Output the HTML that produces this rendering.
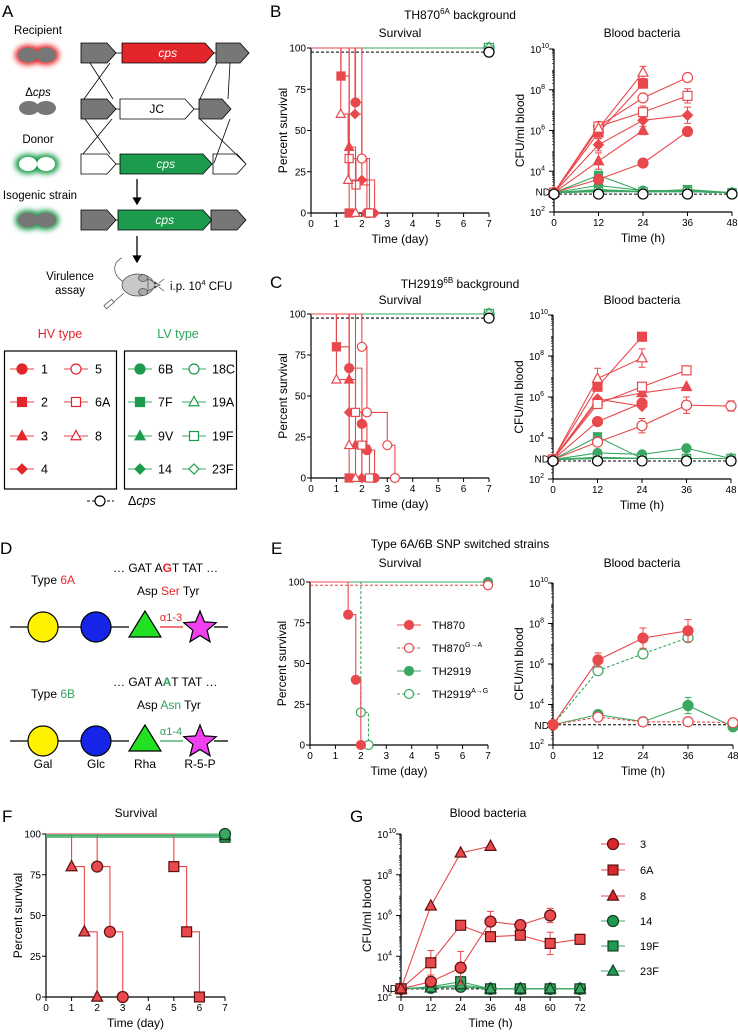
<!DOCTYPE html>
<html><head><meta charset="utf-8">
<style>
body{margin:0;background:#fff}
svg{display:block;font-family:"Liberation Sans",Arial,sans-serif}
</style></head>
<body>
<svg id="fig" width="738" height="1035" viewBox="0 0 738 1035" xmlns="http://www.w3.org/2000/svg">
<defs>
<filter id="glow" x="-50%" y="-50%" width="200%" height="200%"><feGaussianBlur stdDeviation="2.6"/></filter>
</defs>
<rect width="738" height="1035" fill="#fff"/>

<!-- Panel letters -->
<g font-size="17">
<text x="2" y="17">A</text>
<text x="270" y="17">B</text>
<text x="270" y="288">C</text>
<text x="0" y="554">D</text>
<text x="271" y="554">E</text>
<text x="2" y="822">F</text>
<text x="350" y="822">G</text>
</g>

<!-- Panel A -->
<g font-size="11.5">
<text x="38" y="34" text-anchor="middle">Recipient</text>
<g>
<ellipse cx="28" cy="55" rx="13" ry="10" fill="#e8262b" filter="url(#glow)"/>
<ellipse cx="46" cy="55" rx="13" ry="10" fill="#e8262b" filter="url(#glow)"/>
<ellipse cx="28" cy="55" rx="10" ry="7.5" fill="#777"/>
<ellipse cx="46" cy="55" rx="10" ry="7.5" fill="#777"/>
</g>
<text x="38" y="96" text-anchor="middle">Δ<tspan font-style="italic">cps</tspan></text>
<g>
<ellipse cx="29" cy="108" rx="10" ry="7" fill="#777"/>
<ellipse cx="46" cy="108" rx="10" ry="7" fill="#777"/>
</g>
<text x="38" y="143" text-anchor="middle">Donor</text>
<g>
<ellipse cx="28" cy="164" rx="13" ry="10" fill="#1c9b4e" filter="url(#glow)"/>
<ellipse cx="46" cy="164" rx="13" ry="10" fill="#1c9b4e" filter="url(#glow)"/>
<ellipse cx="28" cy="164" rx="9" ry="7" fill="#fff"/>
<ellipse cx="46" cy="164" rx="9" ry="7" fill="#fff"/>
</g>
<text x="40" y="199" text-anchor="middle">Isogenic strain</text>
<g>
<ellipse cx="28" cy="220" rx="13" ry="10" fill="#1c9b4e" filter="url(#glow)"/>
<ellipse cx="46" cy="220" rx="13" ry="10" fill="#1c9b4e" filter="url(#glow)"/>
<ellipse cx="28" cy="220" rx="10" ry="7.5" fill="#777"/>
<ellipse cx="46" cy="220" rx="10" ry="7.5" fill="#777"/>
</g>
<g id="genes" stroke="#000" stroke-width="0.8"></g>
<g stroke="#000" stroke-width="1.3">
<line x1="137" y1="179" x2="137" y2="199"/><polygon points="133.5,198 140.5,198 137,204" fill="#000"/>
<line x1="137" y1="236" x2="137" y2="257"/><polygon points="133.5,256 140.5,256 137,262" fill="#000"/>
</g>
<text x="70" y="280" text-anchor="middle">Virulence</text>
<text x="70" y="294" text-anchor="middle">assay</text>
<g stroke="#555" stroke-width="0.8">
<path d="M124,282 C112,276 112,262 122,258" fill="none"/>
<ellipse cx="138" cy="285" rx="16" ry="11" fill="#c8c8c8"/>
<ellipse cx="143" cy="278" rx="4.5" ry="3.5" fill="#aaa"/>
<ellipse cx="143" cy="292" rx="4.5" ry="3.5" fill="#aaa"/>
<path d="M148,279 L160,285 L148,291 Z" fill="#c8c8c8"/>
<circle cx="155" cy="283" r="1" fill="#222"/>
<circle cx="155" cy="287" r="1" fill="#222"/>
<line x1="159" y1="283" x2="164" y2="279"/><line x1="159" y1="287" x2="164" y2="291"/>
<line x1="124" y1="293" x2="108" y2="307"/><rect x="104" y="302" width="10" height="4" fill="#fff" transform="rotate(-40 109 304)"/>
</g>
<text x="170" y="290">i.p. 10<tspan dy="-5" font-size="7.5">4</tspan><tspan dy="5"> CFU</tspan></text>

<text x="60" y="338" text-anchor="middle" fill="#e3262b" font-size="12.5">HV type</text>
<text x="178" y="338" text-anchor="middle" fill="#2ea35a" font-size="12.5">LV type</text>
<rect x="4.5" y="351" width="112" height="138" fill="none" stroke="#000" stroke-width="1.2"/>
<rect x="124.5" y="351" width="112" height="138" fill="none" stroke="#000" stroke-width="1.2"/>
<g id="legendA" font-size="12.5"></g>
</g>

<!-- Panel D -->
<g id="panelD" font-size="12">
<text x="31" y="584">Type <tspan fill="#e3262b">6A</tspan></text>
<text x="113" y="572">… GAT A<tspan fill="#e3262b" font-weight="bold">G</tspan>T TAT …</text>
<text x="137" y="595">Asp <tspan fill="#e3262b">Ser</tspan> Tyr</text>
<text x="31" y="698">Type <tspan fill="#2ea35a">6B</tspan></text>
<text x="113" y="686">… GAT A<tspan fill="#2ea35a" font-weight="bold">A</tspan>T TAT …</text>
<text x="137" y="709">Asp <tspan fill="#2ea35a">Asn</tspan> Tyr</text>
</g>

<g id="charts"></g>
</svg>

<script>
// ---------------- DATA ----------------
const hvNames = ['1','2','3','4','5','6A','8'];
const lvNames = ['6B','7F','9V','14','18C','19A','19F','23F'];
const bloodTimes = [0,12,24,36,48];
const gTimes = [0,12,24,36,48,60,72];

// Panel B survival: drop times (day) and resulting % survival
const bSurvTimes = [[1.75,2.0,2.2],[1.18,1.5],[1.5,1.75],[1.73,2.0,2.5],[2.0,2.3],[1.5,1.77,2.3],[1.17,1.46,1.75]];
const bSurvVals  = [[67,33,0],[83,0],[40,0],[60,20,0],[33,0],[33,17,0],[60,20,0]];
// Panel C survival
const cSurvTimes = [[1.5,2.0,2.2,2.5],[1.0,1.5],[1.5,1.75,2.0],[1.5,2.0],[2.0,2.2,3.0,3.3],[1.75,2.0,2.3],[1.0,1.5,1.75]];
const cSurvVals  = [[67,33,17,0],[80,0],[60,20,0],[40,0],[80,40,20,0],[40,20,0],[60,20,0]];

// Blood bacteria (log10 CFU/ml); null = no data
const bBloodHV = [
 [2.95,3.6,4.4,5.95,null],
 [2.95,5.9,8.3,null,null],
 [2.95,4.5,6.0,null,null],
 [2.95,5.3,6.5,6.75,null],
 [2.95,6.2,7.6,8.6,null],
 [2.95,6.2,6.9,7.7,null],
 [2.95,6.1,8.85,null,null]];
const bBloodLV = [
 [2.95,3.3,3.05,3.05,2.95],[2.95,3.8,3.0,3.1,2.95],[2.95,3.1,3.0,3.0,2.95],[2.95,3.05,3.0,3.0,2.95],
 [2.95,3.0,3.0,3.0,2.95],[2.95,3.1,3.0,3.0,2.95],[2.95,3.0,3.0,3.0,2.95],[2.95,3.0,3.0,3.0,2.95]];
const bBloodErrHV = [[0,0,0,0.2,0],[0,0.3,0.2,0,0],[0,0.4,0.2,0,0],[0,0.3,0,0.4,0],[0,0,0,0,0],[0,0.2,0.3,0.35,0],[0,0,0.3,0,0]];
const cBloodHV = [
 [2.95,4.8,5.7,null,null],
 [2.95,6.5,8.94,null,null],
 [2.95,5.8,6.2,6.5,null],
 [2.95,5.9,5.55,null,null],
 [2.95,3.8,4.6,5.6,5.56],
 [2.95,5.66,6.5,7.3,null],
 [2.95,6.9,7.9,null,null]];
const cBloodLV = [
 [2.95,3.27,3.2,3.5,3.0],[2.95,4.06,3.0,3.0,3.0],[2.95,3.05,3.0,3.0,3.0],[2.95,3.05,3.0,3.0,3.0],
 [2.95,3.0,3.0,3.0,3.0],[2.95,3.05,3.0,3.0,3.0],[2.95,3.0,3.0,3.0,3.0],[2.95,3.0,3.0,3.0,3.0]];
const cBloodErrHV = [[0,0,0,0,0],[0,0,0,0,0],[0,0,0,0,0],[0,0,0,0,0],[0,0,0.35,0.4,0.25],[0,0,0,0,0],[0,0.5,0.45,0,0]];
const dcpsLevel = 2.88;

// Panel E
const eNames = ['TH870','TH870G→A','TH2919','TH2919A→G'];
const eSurvTimes = [[1.5,1.8,2.0],[],[],[2.0,2.3]];
const eSurvVals  = [[80,40,0],[],[],[20,0]];
const eBlood = [[3.0,6.2,7.28,7.64,null],[3.0,3.38,3.14,3.15,3.1],[3.0,3.5,3.15,3.95,2.9],[3.0,5.67,6.5,7.3,null]];
const eBloodErr = [[0,0.35,0.5,0.55,0],[0,0,0,0.15,0],[0,0,0,0.4,0],[0,0,0,0,0]];

// Panel F/G
const fgNames = ['3','6A','8','14','19F','23F'];
const fSurvTimes = [[2.0,2.5,3.0],[5.0,5.5,6.0],[1.0,1.5,2.0],[],[],[]];
const fSurvVals  = [[80,40,0],[80,40,0],[80,40,0],[],[],[]];
const gBlood = [
 [2.4,2.75,3.44,5.7,5.53,6.0,null],
 [2.4,3.68,5.52,4.96,5.03,4.63,4.83],
 [2.4,6.47,9.07,9.4,null,null,null],
 [2.4,2.45,2.5,2.4,2.4,2.4,2.4],
 [2.4,2.5,2.75,2.4,2.4,2.4,2.4],
 [2.4,2.45,2.6,2.4,2.4,2.4,2.4]];
const gBloodErr = [[0,0.2,0.8,0.5,0.25,0.35,0],[0,0.6,0,0.2,0.2,0.55,0.25],[0,0,0,0,0,0,0],[0,0,0,0,0,0,0],[0,0,0.2,0,0,0,0],[0,0,0,0,0,0,0]];

// ---------------- STYLE ----------------
const RED='#e3262b', RLINE='#e8494d', GREEN='#1c9b4e', GLINE='#3aa862';
const hvShapes=['circle','square','triangle','diamond','circle','square','triangle'];
const hvOpen=[false,false,false,false,true,true,true];
const lvShapes=['circle','square','triangle','diamond','circle','triangle','square','diamond'];
const lvOpen=[false,false,false,false,true,true,true,true];

const NS='http://www.w3.org/2000/svg';
const root=document.getElementById('charts');
function E(tag,parent,attrs){const e=document.createElementNS(NS,tag);for(const k in attrs)e.setAttribute(k,attrs[k]);parent.appendChild(e);return e;}

function marker(parent,shape,open,color,x,y,r,stroke,name){
  let m;
  const fill=open?'#fff':color, st=stroke||color;
  if(shape==='circle') m=E('circle',parent,{cx:x,cy:y,r:r});
  else if(shape==='square') m=E('rect',parent,{x:x-r*0.9,y:y-r*0.9,width:r*1.8,height:r*1.8});
  else if(shape==='triangle') m=E('polygon',parent,{points:`${x},${y-r*1.1} ${x-r},${y+r*0.75} ${x+r},${y+r*0.75}`});
  else m=E('polygon',parent,{points:`${x},${y-r} ${x+r},${y} ${x},${y+r} ${x-r},${y}`});
  m.setAttribute('fill',fill);m.setAttribute('stroke',st);m.setAttribute('stroke-width',1.2);
  
  
  return m;
}
function txt(parent,x,y,s,attrs,name){
  const t=E('text',parent,Object.assign({x:x,y:y,'font-size':10},attrs||{}));
  t.textContent=s;
  
  
  return t;
}

// ---------------- SURVIVAL AXES ----------------
function survAxes(c,name){
  const g=E('g',root,{});
  
  
  c.sx=d=>c.x0+d*(c.x7-c.x0)/7;
  c.sy=v=>c.y0-v*(c.y0-c.y100)/100;
  E('line',g,{x1:c.x0,y1:c.y100,x2:c.x0,y2:c.y0,stroke:'#000','stroke-width':1.2});
  E('line',g,{x1:c.x0,y1:c.y0,x2:c.x7,y2:c.y0,stroke:'#000','stroke-width':1.2});
  [0,25,50,75,100].forEach(v=>{
    E('line',g,{x1:c.x0-4,y1:c.sy(v),x2:c.x0,y2:c.sy(v),stroke:'#000','stroke-width':1});
    txt(g,c.x0-5,c.sy(v)+3.5,String(v),{'text-anchor':'end'},name+'-ytick-label');
  });
  for(let d=0;d<=7;d++){
    E('line',g,{x1:c.sx(d),y1:c.y0,x2:c.sx(d),y2:c.y0+4,stroke:'#000','stroke-width':1});
    txt(g,c.sx(d),c.y0+14,String(d),{'text-anchor':'middle'},name+'-xtick-label');
  }
  txt(g,0,0,'Percent survival',{'font-size':12,'text-anchor':'middle',transform:`translate(${c.x0-24},${(c.y0+c.y100)/2}) rotate(-90)`},name+'-y-axis-title');
  txt(g,(c.x0+c.x7)/2,c.y0+30,'Time (day)',{'font-size':12,'text-anchor':'middle'},name+'-x-axis-title');
}
function survCurve(c,times,vals,color,dash,shape,open,r,stroke,name,endLevel){
  const g=E('g',root,{});
  
  
  let d=`M${c.sx(0)},${c.sy(endLevel)}`;let cur=endLevel;
  times.forEach((t,i)=>{d+=` L${c.sx(t)},${c.sy(cur)} L${c.sx(t)},${c.sy(vals[i])}`;cur=vals[i];});
  if(cur>0) d+=` L${c.sx(7)},${c.sy(cur)}`;
  const p=E('path',g,{d:d,fill:'none',stroke:color,'stroke-width':1.1});
  if(dash)p.setAttribute('stroke-dasharray','3,2');
  
  
  times.forEach((t,i)=>marker(g,shape,open,color,c.sx(t),c.sy(vals[i]),r,stroke,name+'-point'));
  if(cur>0) marker(g,shape,open,color,c.sx(7),c.sy(cur),r,stroke,name+'-end-point');
}

// ---------------- BLOOD AXES ----------------
function bloodAxes(c,name,tMax,tStep,ndLevel){
  const g=E('g',root,{});
  
  
  c.tx=t=>c.x0+t*(c.x1-c.x0)/tMax;
  c.ly=l=>c.yb-(l-2)*(c.yb-c.yt)/8;
  E('line',g,{x1:c.x0,y1:c.yt,x2:c.x0,y2:c.yb,stroke:'#000','stroke-width':1.2});
  E('line',g,{x1:c.x0,y1:c.yb,x2:c.x1,y2:c.yb,stroke:'#000','stroke-width':1.2});
  for(let dec=2;dec<10;dec++)for(let k=2;k<=9;k++){
    const y=c.ly(dec+Math.log10(k));
    E('line',g,{x1:c.x0-2,y1:y,x2:c.x0,y2:y,stroke:'#000','stroke-width':0.6});
  }
  [2,4,6,8,10].forEach(p=>{
    const y=c.ly(p);
    E('line',g,{x1:c.x0-5,y1:y,x2:c.x0,y2:y,stroke:'#000','stroke-width':1});
    const t=txt(g,c.x0-(p===10?5:9),y+4,'10',{'text-anchor':'end','font-size':10},name+'-ytick-label');
    const s=E('tspan',t,{dy:-5,'font-size':7});s.textContent=String(p);
  });
  txt(g,c.x0-4,c.ly(ndLevel)+4,'ND',{'text-anchor':'end'},name+'-nd-label');
  for(let t=0;t<=tMax;t+=tStep){
    E('line',g,{x1:c.tx(t),y1:c.yb,x2:c.tx(t),y2:c.yb+4,stroke:'#000','stroke-width':1});
    txt(g,c.tx(t),c.yb+14,String(t),{'text-anchor':'middle'},name+'-xtick-label');
  }
  txt(g,0,0,'CFU/ml blood',{'font-size':12,'text-anchor':'middle',transform:`translate(${c.x0-30},${(c.yt+c.yb)/2}) rotate(-90)`},name+'-y-axis-title');
  txt(g,(c.x0+c.x1)/2,c.yb+30,'Time (h)',{'font-size':12,'text-anchor':'middle'},name+'-x-axis-title');
}
function bloodSeries(c,times,vals,errs,color,dash,shape,open,r,stroke,name){
  const g=E('g',root,{});
  
  
  let d='';
  times.forEach((t,i)=>{if(vals[i]===null)return;d+=(d?' L':'M')+c.tx(t)+','+c.ly(vals[i]);});
  const p=E('path',g,{d:d,fill:'none',stroke:color,'stroke-width':1.1});
  if(dash)p.setAttribute('stroke-dasharray','3,2');
  
  
  times.forEach((t,i)=>{
    if(vals[i]===null)return;
    const e=errs?errs[i]:0;
    if(e>0){
      const x=c.tx(t),y1=c.ly(vals[i]-e),y2=c.ly(vals[i]+e);
      const eb=E('path',g,{d:`M${x},${y1} L${x},${y2} M${x-3.5},${y1} L${x+3.5},${y1} M${x-3.5},${y2} L${x+3.5},${y2}`,stroke:color,'stroke-width':1,fill:'none'});
      
      
    }
    marker(g,shape,open,color,c.tx(t),c.ly(vals[i]),r,stroke,name+'-point');
  });
}
function dcpsLine(c,times,level,name,circles){
  const g=E('g',root,{});
  
  
  E('line',g,{x1:c.tx(times[0]),y1:c.ly(level),x2:c.tx(times[times.length-1]),y2:c.ly(level),stroke:'#000','stroke-width':1,'stroke-dasharray':'3,2'});
  if(circles) times.forEach(t=>marker(g,'circle',true,'#000',c.tx(t),c.ly(level),5,'#000',name+'-point'));
}

// ---------------- TITLES ----------------
function title(x,y,s,sup,rest,name,size){
  const t=txt(root,x,y,s,{'font-size':size||12,'text-anchor':'middle'},name);
  if(sup){const a=E('tspan',t,{dy:-5,'font-size':8});a.textContent=sup;const b=E('tspan',t,{dy:5});b.textContent=rest;}
}
title(460,19,'TH870','6A',' background','panel-b-title');
title(400,37,'Survival',null,null,'panel-b-survival-title');
title(642,37,'Blood bacteria',null,null,'panel-b-blood-title');
title(460,288,'TH2919','6B',' background','panel-c-title');
title(400,304,'Survival',null,null,'panel-c-survival-title');
title(642,304,'Blood bacteria',null,null,'panel-c-blood-title');
title(460,548,'Type 6A/6B SNP switched strains',null,null,'panel-e-title');
title(400,567,'Survival',null,null,'panel-e-survival-title');
title(642,567,'Blood bacteria',null,null,'panel-e-blood-title');
title(136,817,'Survival',null,null,'panel-f-title');
title(488,817,'Blood bacteria',null,null,'panel-g-title');

// ---------------- PANEL B / C ----------------
function bcPanel(sc,bc,survT,survV,bloodHV,bloodLV,errHV,prefix){
  survAxes(sc,prefix+'-survival');
  lvNames.forEach((n,i)=>survCurve(sc,[],[],GLINE,false,lvShapes[i],lvOpen[i],5,null,prefix+'-survival-lv-'+n,100));
  survCurve(sc,[],[],'#000',true,'circle',true,5,'#000',prefix+'-survival-dcps',97.5);
  hvNames.forEach((n,i)=>survCurve(sc,survT[i],survV[i],RLINE,false,hvShapes[i],hvOpen[i],4.5,null,prefix+'-survival-hv-'+n,100));
  bloodAxes(bc,prefix+'-blood',48,12,3.0);
  lvNames.forEach((n,i)=>bloodSeries(bc,bloodTimes,bloodLV[i],null,GLINE,false,lvShapes[i],lvOpen[i],4.5,null,prefix+'-blood-lv-'+n));
  hvNames.forEach((n,i)=>bloodSeries(bc,bloodTimes,bloodHV[i],errHV[i],RLINE,false,hvShapes[i],hvOpen[i],5,null,prefix+'-blood-hv-'+n));
  dcpsLine(bc,bloodTimes,dcpsLevel,prefix+'-blood-dcps',true);
}
bcPanel({x0:311,x7:489,y100:48,y0:213},{x0:554,x1:732,yt:49,yb:212},bSurvTimes,bSurvVals,bBloodHV,bBloodLV,bBloodErrHV,'panel-b');
bcPanel({x0:311,x7:489,y100:314,y0:478},{x0:553,x1:731,yt:315,yb:479},cSurvTimes,cSurvVals,cBloodHV,cBloodLV,cBloodErrHV,'panel-c');

// ---------------- PANEL E ----------------
(function(){
  const sc={x0:310,x7:488,y100:582,y0:745};
  survAxes(sc,'panel-e-survival');
  const cols=[RLINE,RLINE,GLINE,GLINE],dash=[false,true,false,true],open=[false,true,false,true],lev=[100,98,100,100];
  [2,1,3,0].forEach(i=>survCurve(sc,eSurvTimes[i],eSurvVals[i],cols[i],dash[i],'circle',open[i],4.5,null,'panel-e-survival-'+eNames[i].replace('→','-to-'),lev[i]));
  const lg=E('g',root,{});
  
  
  const ly=[625,648,671,694];
  eNames.forEach((n,i)=>{
    const l=E('line',lg,{x1:397,y1:ly[i],x2:421,y2:ly[i],stroke:cols[i],'stroke-width':1.1});
    if(dash[i])l.setAttribute('stroke-dasharray','3,2');
    marker(lg,'circle',open[i],cols[i],409,ly[i],4.5,null,'legend-entry-marker');
    const base=n.replace(/G→A|A→G/,''),sup=n.slice(base.length);
    const t=txt(lg,432,ly[i]+4,base,{'font-size':11},'legend-entry-'+i);
    if(sup){const s=E('tspan',t,{dy:-5,'font-size':7});s.textContent=sup;}
  });
  const bc={x0:553,x1:733,yt:583,yb:745};
  bloodAxes(bc,'panel-e-blood',48,12,3.0);
  dcpsLine(bc,bloodTimes,3.0,'panel-e-blood-nd-line',false);
  [2,3,1,0].forEach(i=>bloodSeries(bc,bloodTimes,eBlood[i],eBloodErr[i],cols[i],dash[i],'circle',open[i],5,null,'panel-e-blood-'+eNames[i].replace('→','-to-')));
})();

// ---------------- PANEL F / G ----------------
(function(){
  const DR='#5c1010',DG='#0f3f20',FR='#d8282c',FG='#1f9a50';
  const shapes=['circle','square','triangle','circle','square','triangle'];
  const cols=[FR,FR,FR,FG,FG,FG],strk=[DR,DR,DR,DG,DG,DG],lines=[RLINE,RLINE,RLINE,GLINE,GLINE,GLINE];
  const sc={x0:46,x7:225,y100:834,y0:997};
  survAxes(sc,'panel-f-survival');
  const lev=[100,100,100,100,98,99];
  [4,5,3,0,1,2].forEach(i=>survCurve(sc,fSurvTimes[i],fSurvVals[i],lines[i],false,shapes[i],false,5.5,strk[i],'panel-f-survival-'+fgNames[i],lev[i]));
  const band=E('rect',root,{x:sc.sx(0),y:sc.sy(100),width:sc.sx(7)-sc.sx(0)-6,height:sc.sy(98)-sc.sy(100),fill:GLINE,opacity:0.6});
  
  
  const bc={x0:401,x1:580,yt:834,yb:997};
  bloodAxes(bc,'panel-g-blood',72,12,2.45);
  dcpsLine(bc,[0,36],2.4,'panel-g-blood-nd-line',false);
  [3,4,5,0,1,2].forEach(i=>bloodSeries(bc,gTimes,gBlood[i],gBloodErr[i],lines[i],false,shapes[i],false,5.5,strk[i],'panel-g-blood-'+fgNames[i]));
  const lg=E('g',root,{});
  
  
  const ly=[844,870,896,921,946,971];
  fgNames.forEach((n,i)=>{
    E('line',lg,{x1:601,y1:ly[i],x2:625,y2:ly[i],stroke:lines[i],'stroke-width':1.1});
    marker(lg,shapes[i],false,cols[i],613,ly[i],5.5,strk[i],'legend-entry-marker');
    txt(lg,640,ly[i]+4,n,{'font-size':11},'legend-entry-'+n);
  });
})();

// ---------------- PANEL A legend ----------------
(function(){
  const lg=document.getElementById('legendA');
  
  
  const rows=[369,402,436,469];
  hvNames.forEach((n,i)=>{
    const col=i<4?0:1,row=i<4?i:i-4;
    const mx=col?76:22,y=rows[row];
    E('line',lg,{x1:mx-12,y1:y,x2:mx+12,y2:y,stroke:RLINE,'stroke-width':1.1});
    marker(lg,hvShapes[i],hvOpen[i],RED,mx,y,5,null,'legend-marker-hv-'+n);
    txt(lg,mx+19,y+4.5,n,{'font-size':12.5},'legend-label-hv-'+n);
  });
  lvNames.forEach((n,i)=>{
    const col=i<4?0:1,row=i%4;
    const mx=col?194:140,y=rows[row];
    E('line',lg,{x1:mx-12,y1:y,x2:mx+12,y2:y,stroke:GLINE,'stroke-width':1.1});
    marker(lg,lvShapes[i],lvOpen[i],GREEN,mx,y,5,null,'legend-marker-lv-'+n);
    txt(lg,mx+18,y+4.5,n,{'font-size':12.5},'legend-label-lv-'+n);
  });
  E('line',lg,{x1:87,y1:501,x2:114,y2:501,stroke:'#000','stroke-width':1,'stroke-dasharray':'3,2'});
  marker(lg,'circle',true,'#000',100,501,5,'#000','legend-marker-dcps');
  const t=txt(lg,128,505,'Δ',{'font-size':12.5},'legend-label-dcps');
  const s=E('tspan',t,{'font-style':'italic'});s.textContent='cps';
})();

// ---------------- PANEL A genes ----------------
(function(){
  const g=document.getElementById('genes');
  function gene(x,y,w,fill,label,name){
    const h=20,tip=9;
    const p=E('polygon',g,{points:`${x},${y} ${x+w-tip},${y} ${x+w},${y+h/2} ${x+w-tip},${y+h} ${x},${y+h}`,fill:fill});
    
    
    if(label){txt(g,x+(w-tip/2)/2+2,y+14,label,{'font-size':12,'text-anchor':'middle',fill:fill==='#fff'?'#000':'#fff',stroke:'none','font-style':label==='JC'?'normal':'italic'},name+'-label');}
  }
  function ln(a,b,c,d){E('line',g,{x1:a,y1:b,x2:c,y2:d});}
  const rows=[[43,[[81,35,'#777'],[122,92,'#e3262b','cps'],[216,33,'#777']]],
              [99,[[81,35,'#777'],[120,74,'#fff','JC'],[199,32,'#777']]],
              [154,[[81,35,'#fff'],[120,92,'#1c9b4e','cps'],[213,33,'#fff']]],
              [210,[[81,35,'#777'],[118,94,'#1c9b4e','cps'],[211,35,'#777']]]];
  rows.forEach((r,ri)=>{
    const y=r[0];
    r[1].forEach((s,si)=>gene(s[0],y,s[1],s[2],s[3],'gene-row'+ri+'-'+si));
    ln(r[1][0][0]+r[1][0][1],y+10,r[1][1][0],y+10);
    ln(r[1][1][0]+r[1][1][1],y+10,r[1][2][0],y+10);
  });
  ln(90,63,113,99);ln(110,63,84,99);ln(217,63,200,99);ln(230,63,228,99);
  ln(85,119,110,154);ln(112,119,83,154);ln(200,119,245,163);ln(230,119,214,163);
})();

// ---------------- PANEL D chains ----------------
(function(){
  const d=document.getElementById('panelD');
  function star(cx,cy,R,r){let p=[];for(let i=0;i<10;i++){const a=-Math.PI/2+i*Math.PI/5,rr=i%2?r:R;p.push((cx+rr*Math.cos(a)).toFixed(1)+','+(cy+rr*Math.sin(a)).toFixed(1));}return p.join(' ');}
  function chain(y,col,lab,name){
    const g=E('g',d,{});
    
    
    [[10,28],[58,81],[111,129],[214,228]].forEach(s=>E('line',g,{x1:s[0],y1:y,x2:s[1],y2:y,stroke:'#000','stroke-width':1.3}));
    E('line',g,{x1:160,y1:y,x2:183,y2:y,stroke:col,'stroke-width':1.3});
    const c1=E('circle',g,{cx:43,cy:y,r:15,fill:'#fff200',stroke:'#000','stroke-width':1.2});
    
    
    const c2=E('circle',g,{cx:96,cy:y,r:15,fill:'#1524e6',stroke:'#000','stroke-width':1.2});
    
    
    const tr=E('polygon',g,{points:`145,${y-16} 129,${y+10} 161,${y+10}`,fill:'#22e022',stroke:'#000','stroke-width':1.2});
    
    
    const st=E('polygon',g,{points:star(200,y+1,17,7.5),fill:'#f040f0',stroke:'#000','stroke-width':1.2});
    
    
    txt(g,171,y-6,'α1-'+lab,{'font-size':11,'text-anchor':'middle',fill:col},'linkage-label');
  }
  chain(627,'#e3262b','3','chain-6a');
  chain(741,'#2ea35a','4','chain-6b');
  const names=['Gal','Glc','Rha','R-5-P'],xs=[43,96,145,200];
  names.forEach((n,i)=>txt(d,xs[i],768,n,{'font-size':12,'text-anchor':'middle'},'sugar-label-'+n));
})();
</script>
</body></html>
